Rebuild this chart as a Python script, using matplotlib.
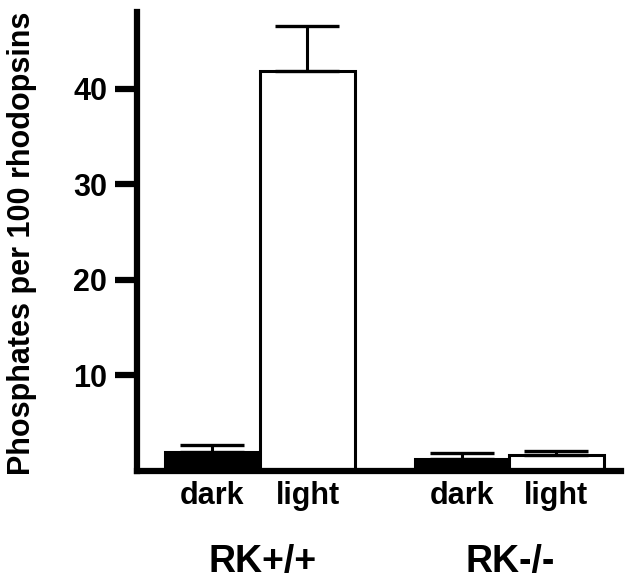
import numpy as np
import matplotlib
matplotlib.use('Agg')
import matplotlib.pyplot as plt

plt.rcParams['font.family'] = ['Liberation Sans', 'DejaVu Sans']
plt.rcParams['font.weight'] = 'bold'

# data
conditions = ['dark', 'light', 'dark', 'light']
genotypes = ['RK+/+', 'RK-/-']
phosphates = [2.0, 41.9, 1.26, 1.68]
errors = [0.75, 4.7, 0.62, 0.42]
fills = ['black', 'white', 'black', 'white']

positions = np.array([0, 1, 2.63, 3.62])
group_centers = [0.53, 3.13]

fig = plt.figure(figsize=(6.3, 5.8), dpi=100)
ax = fig.add_axes([136.5 / 630, 109 / 580, 484 / 630, 459 / 580])

ax.bar(positions, phosphates, width=1.0, color=fills, edgecolor='black',
       linewidth=2.2, zorder=2)
ax.errorbar(positions, phosphates, yerr=[np.zeros(len(errors)), errors],
            fmt='none', ecolor='black', elinewidth=2.2, capsize=23,
            capthick=2.4, zorder=3)

ax.set_xlim(-0.8, 4.295)
ax.set_ylim(0, 48.06)
ax.set_yticks([10, 20, 30, 40])
ax.set_yticklabels(['10', '20', '30', '40'], fontsize=22, fontweight='bold')
ax.tick_params(axis='y', length=16, width=4.5, pad=5, direction='out')
ax.set_xticks([])

for side in ['top', 'right']:
    ax.spines[side].set_visible(False)
for side in ['left', 'bottom']:
    ax.spines[side].set_linewidth(4.5)
    ax.spines[side].set_zorder(4)

trans = ax.get_xaxis_transform()
for x, lab in zip(positions, conditions):
    ax.text(x, -0.0719, lab, transform=trans, ha='center', va='baseline',
            fontsize=22, fontweight='bold')
for x, lab in zip(group_centers, genotypes):
    ax.text(x, -0.2200, lab, transform=trans, ha='center', va='baseline',
            fontsize=27, fontweight='bold')

fig.text(22 / 630, 1 - 243 / 580, 'Phosphates per 100 rhodopsins',
         rotation=90, ha='center', va='center', fontsize=22, fontweight='bold')

fig.savefig('out.png', dpi=100)
